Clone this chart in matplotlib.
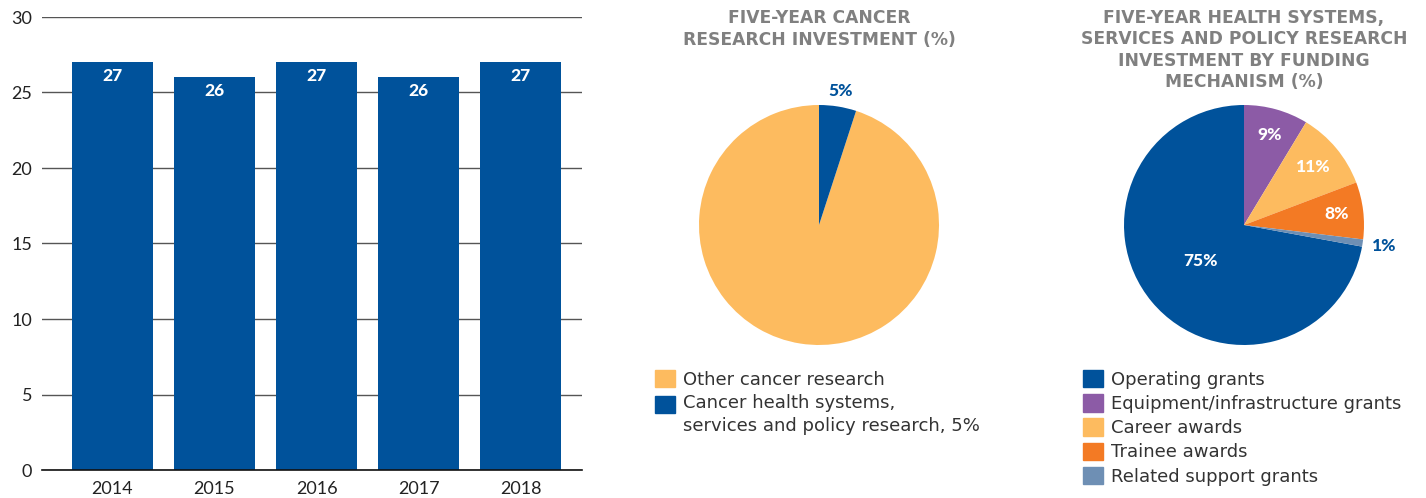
import matplotlib.pyplot as plt
import numpy as np
from matplotlib.patches import Patch

plt.rcParams['font.family'] = ['Lato', 'DejaVu Sans']

# Data
years = ['2014', '2015', '2016', '2017', '2018']
shares = [27, 26, 27, 26, 27]

pie1_labels = ['Other cancer research',
               'Cancer health systems,\nservices and policy research, 5%']
pie1_values = [95, 5]

pie2_labels = ['Operating grants', 'Equipment/infrastructure grants',
               'Career awards', 'Trainee awards', 'Related support grants']
pie2_values = [75, 9, 11, 8, 1]

navy = '#00529b'
pale_orange = '#fdbb5f'
purple = '#8c5ba6'
orange = '#f37a24'
steel = '#6e8fb4'
title_grey = '#808080'
text_col = '#333333'
wide = ['DejaVu Sans']

W, H = 1426, 498
fig = plt.figure(figsize=(W / 100, H / 100), dpi=100)

# Bar chart
ax = fig.add_axes([42 / W, 1 - 470 / H, 540 / W, 453 / H])
x = np.arange(len(years))
bars = ax.bar(x, shares, width=0.79, color=navy, zorder=3)
ax.set_xlim(-0.69, 4.6)
ax.set_ylim(0, 30)
ax.set_yticks(range(0, 31, 5))
ax.set_xticks(x, years)
ax.yaxis.grid(True, color='#555555', linewidth=1.0, zorder=0)
for s in ['left', 'right', 'top']:
    ax.spines[s].set_visible(False)
ax.spines['bottom'].set_color('#111111')
ax.spines['bottom'].set_linewidth(1.2)
ax.spines['bottom'].set_zorder(4)
ax.tick_params(length=0, labelsize=13, colors='#222222')
ax.tick_params(axis='y', pad=7)
ax.tick_params(axis='x', pad=8)
for b, v in zip(bars, shares):
    ax.annotate(str(v), (b.get_x() + b.get_width() / 2, v), xytext=(0, -10),
                textcoords='offset points', ha='center', va='center',
                color='white', fontsize=12.5, fontweight='black', zorder=5)


def label_wedge(ax, w, text, r, color):
    ang = np.deg2rad((w.theta1 + w.theta2) / 2)
    ax.text(r * np.cos(ang), r * np.sin(ang), text, ha='center', va='center',
            color=color, fontsize=12.5, fontweight='black')


legend_kw = dict(loc='upper left', bbox_transform=fig.transFigure,
                 frameon=False, prop={'family': wide, 'size': 13},
                 handlelength=1.1, handleheight=1.1, handletextpad=0.45,
                 labelspacing=0.3, borderaxespad=0, borderpad=0,
                 labelcolor=text_col)

# Pie 1: cancer research investment
ax1 = fig.add_axes([699 / W, 1 - 345 / H, 240 / W, 240 / H])
start1 = 90 + 360 * pie1_values[0] / sum(pie1_values)
w1, _ = ax1.pie(pie1_values, colors=[pale_orange, navy], startangle=start1,
                counterclock=False)
ax1.set_xlim(-1, 1)
ax1.set_ylim(-1, 1)
label_wedge(ax1, w1[1], f'{pie1_values[1]}%', 1.13, navy)
ax1.text(0.5, 1.317, 'FIVE-YEAR CANCER\nRESEARCH INVESTMENT (%)',
         transform=ax1.transAxes, ha='center', va='center', family=wide,
         fontsize=12.3, fontweight='bold', color=title_grey, linespacing=1.25)
leg1 = ax1.legend(handles=[Patch(color=c) for c in [pale_orange, navy]],
                  labels=pie1_labels, bbox_to_anchor=(655 / W, 1 - 370 / H),
                  **legend_kw)
for t in leg1.get_texts():
    t.set_linespacing(1.32)
# keep the swatch level with the first line of the two-line label
sw = leg1.legend_handles[1]
sw.set_y(sw.get_y() + 8)

# Pie 2: funding mechanism
ax2 = fig.add_axes([1124 / W, 1 - 345 / H, 240 / W, 240 / H])
start2 = 90 + 360 * pie2_values[0] / sum(pie2_values)
pie2_colors = [navy, purple, pale_orange, orange, steel]
w2, _ = ax2.pie(pie2_values, colors=pie2_colors, startangle=start2,
                counterclock=False)
ax2.set_xlim(-1, 1)
ax2.set_ylim(-1, 1)
radii = [0.47, 0.78, 0.75, 0.78, 1.18]
for w, v, r in zip(w2, pie2_values, radii):
    label_wedge(ax2, w, f'{v}%', r, navy if r > 1 else 'white')
ax2.text(0.5, 1.229, 'FIVE-YEAR HEALTH SYSTEMS,\nSERVICES AND POLICY RESEARCH\n'
         'INVESTMENT BY FUNDING\nMECHANISM (%)',
         transform=ax2.transAxes, ha='center', va='center', family=wide,
         fontsize=12.3, fontweight='bold', color=title_grey, linespacing=1.25)
ax2.legend(handles=[Patch(color=c) for c in pie2_colors],
           labels=pie2_labels, bbox_to_anchor=(1083 / W, 1 - 370 / H),
           **legend_kw)

fig.savefig('out.png', dpi=100)
